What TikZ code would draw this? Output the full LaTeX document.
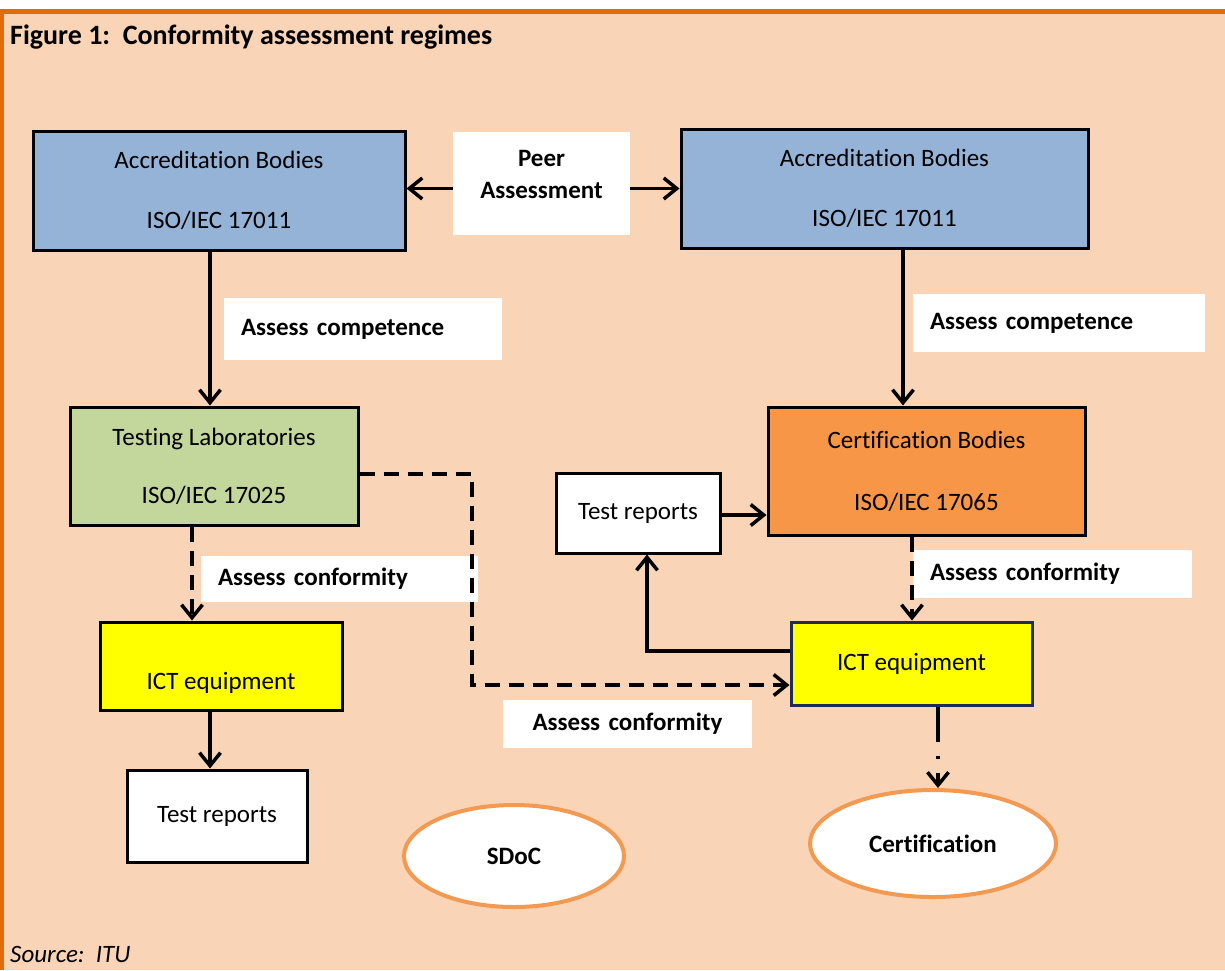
\documentclass[tikz,border=0pt]{standalone}
\usepackage{fontspec}
\setmainfont{Carlito}[Ligatures=NoCommon]
\usetikzlibrary{arrows.meta,shapes.geometric}
\definecolor{bg}{HTML}{FAD4B6}
\definecolor{bar}{HTML}{E36C0A}
\definecolor{accblue}{HTML}{95B3D7}
\definecolor{labgreen}{HTML}{C3D69B}
\definecolor{certorange}{HTML}{F79646}
\definecolor{ictyellow}{HTML}{FFFF00}
\definecolor{navy}{HTML}{1F2D55}
\definecolor{ellborder}{HTML}{F39A52}
\tikzset{
  txt/.style={font=\fontsize{25}{30}\selectfont, align=center, inner sep=0pt},
  btxt/.style={font=\bfseries\fontsize{25}{32}\selectfont, align=center, inner sep=0pt},
  box/.style={draw=black, line width=3pt, inner sep=0pt, txt},
  lbl/.style={fill=white, inner ysep=0pt, inner xsep=17pt, align=left,
    font=\bfseries\fontsize{25}{30}\selectfont},
  arr/.style={line width=3.5pt, -{Straight Barb[length=13pt,width=21pt,line width=3.5pt]}},
  dsh/.style={dash pattern=on 15pt off 9pt},
  ell/.style={ellipse, draw=ellborder, line width=4pt, fill=white, inner sep=0pt,
    font=\bfseries\fontsize{25}{30}\selectfont}
}
\begin{document}
\begin{tikzpicture}[x=1pt,y=-1pt]
\useasboundingbox (0,0) rectangle (1225,970);
\fill[white] (0,0) rectangle (1225,970);
\fill[bg] (0,9) rectangle (1225,970);
\fill[bar] (0,9) rectangle (1225,14);
\fill[bar] (0,9) rectangle (4,970);

\node[anchor=base west, inner sep=0pt, font=\bfseries\fontsize{28}{32}\selectfont] (title) at (10,44) {Figure 1:\ \ Conformity assessment regimes};
\node[anchor=base west, inner sep=0pt, font=\itshape\fontsize{25}{28}\selectfont] (source) at (10,962) {Source:\ \ ITU};

% boxes
\node[box, fill=accblue, minimum width=372pt, minimum height=119pt] (accL) at (219,190.5) {Accreditation Bodies\\[30pt]ISO/IEC 17011};
\node[fill=white, minimum width=177pt, minimum height=103pt, inner sep=0pt] (peer) at (541.5,183.5) {};
\node[btxt] (peertxt) at (541.5,174) {Peer\\Assessment};
\node[box, fill=accblue, minimum width=407pt, minimum height=119pt] (accR) at (884.5,188.5) {Accreditation Bodies\\[30pt]ISO/IEC 17011};

\node[lbl, text width=244pt, minimum height=62pt] (compL) at (363,329) {Assess competence};
\node[lbl, text width=258pt, minimum height=58pt] (compR) at (1059,323) {Assess competence};

\node[box, fill=labgreen, minimum width=288pt, minimum height=118pt] (lab) at (214,466) {Testing Laboratories\\[28pt]ISO/IEC 17025};
\node[box, fill=certorange, minimum width=317pt, minimum height=128pt] (cert) at (926.5,471) {Certification Bodies\\[32pt]ISO/IEC 17065};
\node[box, fill=white, minimum width=164pt, minimum height=80pt] (trR) at (638,513) {Test reports};

\node[lbl, text width=243pt, minimum height=46pt] (confL) at (339.5,579) {Assess conformity};
\node[lbl, text width=245pt, minimum height=48pt] (confR) at (1052.5,574) {Assess conformity};

\node[box, fill=ictyellow, minimum width=242pt, minimum height=88pt] (ictL) at (221,666) {};
\node[txt] (ictLtxt) at (221,683) {ICT equipment};
\node[box, draw=navy, fill=ictyellow, minimum width=241pt, minimum height=83pt] (ictR) at (911.5,663.5) {ICT equipment};

\node[lbl, align=center, text width=215pt, minimum height=48pt] (confB) at (627.5,724) {Assess conformity};

\node[box, fill=white, minimum width=180pt, minimum height=92pt] (trL) at (217,816) {Test reports};

\node[ell, minimum width=220pt, minimum height=102pt] (sdoc) at (514,856) {SDoC};
\node[ell, minimum width=246pt, minimum height=107pt] (certE) at (933,843.5) {Certification};

% connectors
\coordinate (p1) at ([yshift=-5pt]peer.west);
\coordinate (p2) at ([yshift=-5pt]peer.east);
\draw[arr] (p1) -- (p1 -| accL.east);
\draw[arr] (p2) -- (p2 -| accR.west);

\coordinate (a1) at ([xshift=-9pt]accL.south);
\draw[arr] (a1) -- (a1 |- lab.north);
\coordinate (a2) at ([xshift=18.5pt]accR.south);
\draw[arr] (a2) -- (a2 |- cert.north);

\coordinate (l1) at ([yshift=-8pt]lab.east);
\coordinate (jx) at (472,0);
\coordinate (i1) at ([yshift=-21.5pt]ictR.west);
\draw[arr, dsh] (l1) -- (l1 -| jx) -- (jx |- i1) -- (i1);

\coordinate (l2) at ([xshift=-22pt]lab.south);
\draw[arr, dsh] (l2) -- (l2 |- ictL.north);

\coordinate (c1) at ([xshift=-14.5pt]cert.south);
\draw[arr, dsh] (c1) -- (c1 |- ictR.north);

\coordinate (t0) at ([yshift=-2pt]trR.east);
\draw[arr] (t0) -- (t0 -| cert.west);

\coordinate (i2) at ([yshift=12.5pt]ictR.west);
\coordinate (t1) at ([xshift=9pt]trR.south);
\draw[arr] (i2) -| (t1);

\coordinate (e1) at ([xshift=-11pt]ictL.south);
\draw[arr] (e1) -- (e1 |- trL.north);

\coordinate (k1) at ([xshift=26.5pt]ictR.south);
\draw[arr, dash pattern=on 35pt off 14pt on 3pt off 14pt] (k1) -- (k1 |- certE.north);
\end{tikzpicture}
\end{document}
